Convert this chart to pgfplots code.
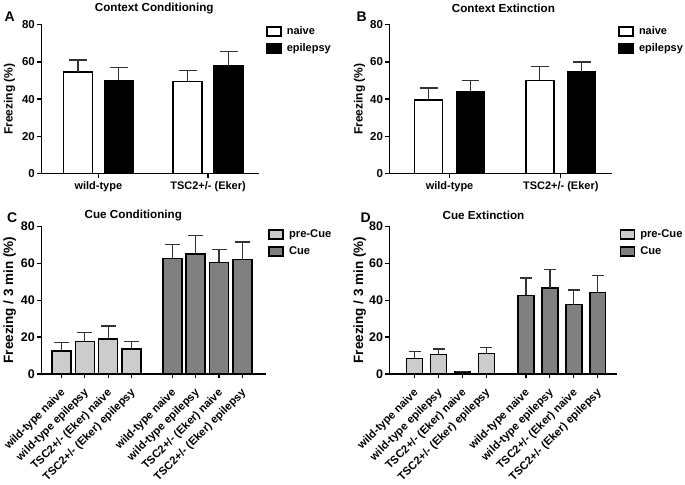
\documentclass[border=0pt]{standalone}
\usepackage{fontspec}
\setmainfont{Liberation Sans}
\usepackage{pgfplots}
\pgfplotsset{compat=1.18}
\definecolor{prec}{HTML}{CCCCCC}
\definecolor{cue}{HTML}{808080}

\newcommand{\fs}[1]{\bfseries\fontsize{#1}{#1}\selectfont}

\pgfplotsset{
  panel/.style={
    scale only axis,
    axis x line*=bottom, axis y line*=left,
    axis line style={line width=1.4pt,-},
    ymin=0, ymax=80, ytick={0,20,40,60,80},
    tick align=outside, major tick length=4.5pt,
    tick style={line width=1.2pt,black},
    /pgf/number format/assume math mode=true,
    yticklabel style={font=\fs{11.5}, inner sep=2pt},
    xticklabel style={font=\fs{11}},
    ylabel style={anchor=center, rotate=0},
    legend style={draw=none, fill=none, font=\fs{11},
                  row sep=3.5pt, inner sep=0pt, legend cell align=left},
  },
  boxleg/.style={
    legend image code/.code={
      \draw[##1,line width=1.4pt] (0pt,-4.5pt) rectangle (14pt,4.5pt);
      \path[draw=none,fill=none] (0pt,0pt) -- (18pt,0pt);}},
  errs/.style={
    error bars/y dir=plus, error bars/y explicit, error bars/error mark=-,
    error bars/error bar style={line width=1.3pt,black!80},
    error bars/error mark options={rotate=90,line width=1.3pt,black!80,mark size=#1},
  },
  barA/.style={draw=black, line width=1.5pt},
  rotlab/.style={xticklabel style={rotate=45, anchor=north east, inner sep=1pt,
      xshift=-6.5pt, yshift=-4pt, font=\fs{11.2}}},
}

\begin{document}
\begin{tikzpicture}
\path (0pt,0pt) rectangle (685pt,-474pt);

% Panel A
\begin{axis}[panel,
  at={(40pt,-171pt)}, anchor=south west, width=218pt, height=149pt,
  xmin=-0.518, xmax=1.464, xtick={0,1}, xticklabels={wild-type,TSC2+/- (Eker)},
  ybar=12pt, bar width=29pt,
  ylabel={Freezing (\%)}, ylabel style={font=\fs{12}, at={(axis description cs:-0.147,0.5)}},
  legend style={at={(1.032,1.0)}, anchor=north west},
  every axis plot post/.append style={boxleg},
]
\addplot[barA, fill=white, errs=9pt] coordinates {(0,54.5) +- (0,6.5) (1,49.5) +- (0,6)};
\addplot[barA, fill=black, errs=9pt] coordinates {(0,50) +- (0,7) (1,58) +- (0,7.5)};
\legend{naive,epilepsy}
\end{axis}

% Panel B
\begin{axis}[panel,
  at={(389pt,-171pt)}, anchor=south west, width=223pt, height=149pt,
  xmin=-0.538, xmax=1.462, xtick={0,1}, xticklabels={wild-type,TSC2+/- (Eker)},
  ybar=14pt, bar width=28pt,
  ylabel={Freezing (\%)}, ylabel style={font=\fs{12}, at={(axis description cs:-0.135,0.5)}},
  legend style={at={(1.027,1.0)}, anchor=north west},
  every axis plot post/.append style={boxleg},
]
\addplot[barA, fill=white, errs=9pt] coordinates {(0,39.5) +- (0,6.5) (1,50) +- (0,7.5)};
\addplot[barA, fill=black, errs=9pt] coordinates {(0,44) +- (0,6) (1,54.5) +- (0,5.5)};
\legend{naive,epilepsy}
\end{axis}

% Panel C
\begin{axis}[panel,
  at={(40pt,-372pt)}, anchor=south west, width=225pt, height=148pt,
  xmin=-0.855, xmax=8.76,
  xtick={0,1,2,3,4.75,5.75,6.75,7.75},
  xticklabels={wild-type naive,wild-type epilepsy,TSC2+/- (Eker) naive,TSC2+/- (Eker) epilepsy,
               wild-type naive,wild-type epilepsy,TSC2+/- (Eker) naive,TSC2+/- (Eker) epilepsy},
  rotlab, yticklabel style={font=\fs{12.5}},
  ybar, bar width=19pt,
  ylabel={Freezing / 3 min (\%)}, ylabel style={font=\fs{13.5}, at={(axis description cs:-0.142,0.5)}},
  legend style={at={(1.01,0.99)}, anchor=north west, font=\fs{11.2}},
  every axis plot post/.append style={boxleg},
]
\addplot[barA, fill=prec, bar shift=0pt, errs=7.5pt] coordinates {
  (0,12.5) +- (0,4.5) (1,17.5) +- (0,5) (2,19) +- (0,7) (3,13.5) +- (0,4)};
\addplot[barA, fill=cue, bar shift=0pt, errs=7.5pt] coordinates {
  (4.75,62.5) +- (0,7.5) (5.75,65) +- (0,10) (6.75,60.5) +- (0,7) (7.75,62) +- (0,9.5)};
\legend{pre-Cue,Cue}
\end{axis}

% Panel D
\begin{axis}[panel,
  at={(389pt,-372pt)}, anchor=south west, width=228pt, height=148pt,
  xmin=-1.04, xmax=8.46,
  xtick={0,1,2,3,4.65,5.65,6.65,7.65},
  xticklabels={wild-type naive,wild-type epilepsy,TSC2+/- (Eker) naive,TSC2+/- (Eker) epilepsy,
               wild-type naive,wild-type epilepsy,TSC2+/- (Eker) naive,TSC2+/- (Eker) epilepsy},
  rotlab, yticklabel style={font=\fs{12.5}},
  ybar, bar width=16pt,
  ylabel={Freezing / 3 min (\%)}, ylabel style={font=\fs{13.5}, at={(axis description cs:-0.132,0.5)}},
  legend style={at={(1.01,0.99)}, anchor=north west, font=\fs{11.2}},
  every axis plot post/.append style={boxleg},
]
\addplot[barA, fill=prec, bar shift=0pt, errs=6pt] coordinates {
  (0,8.5) +- (0,3.5) (1,10.5) +- (0,3) (2,1) +- (0,0.5) (3,11) +- (0,3.5)};
\addplot[barA, fill=cue, bar shift=0pt, errs=6pt] coordinates {
  (4.65,42.5) +- (0,9.5) (5.65,46.5) +- (0,10) (6.65,37.5) +- (0,8) (7.65,44) +- (0,9.5)};
\legend{pre-Cue,Cue}
\end{axis}

% titles and panel letters
\begin{scope}[every node/.style={font=\fs{11.7}}]
\node at (153pt,-6pt) {Context Conditioning};
\node at (503pt,-6pt) {Context Extinction};
\node at (132pt,-213pt) {Cue Conditioning};
\node at (483pt,-213pt) {Cue Extinction};
\end{scope}
\begin{scope}[every node/.style={font=\fs{14}}]
\node at (8pt,-14pt) {A};
\node at (361pt,-14pt) {B};
\node at (10.5pt,-215pt) {C};
\node at (365pt,-215pt) {D};
\end{scope}
\end{tikzpicture}
\end{document}
